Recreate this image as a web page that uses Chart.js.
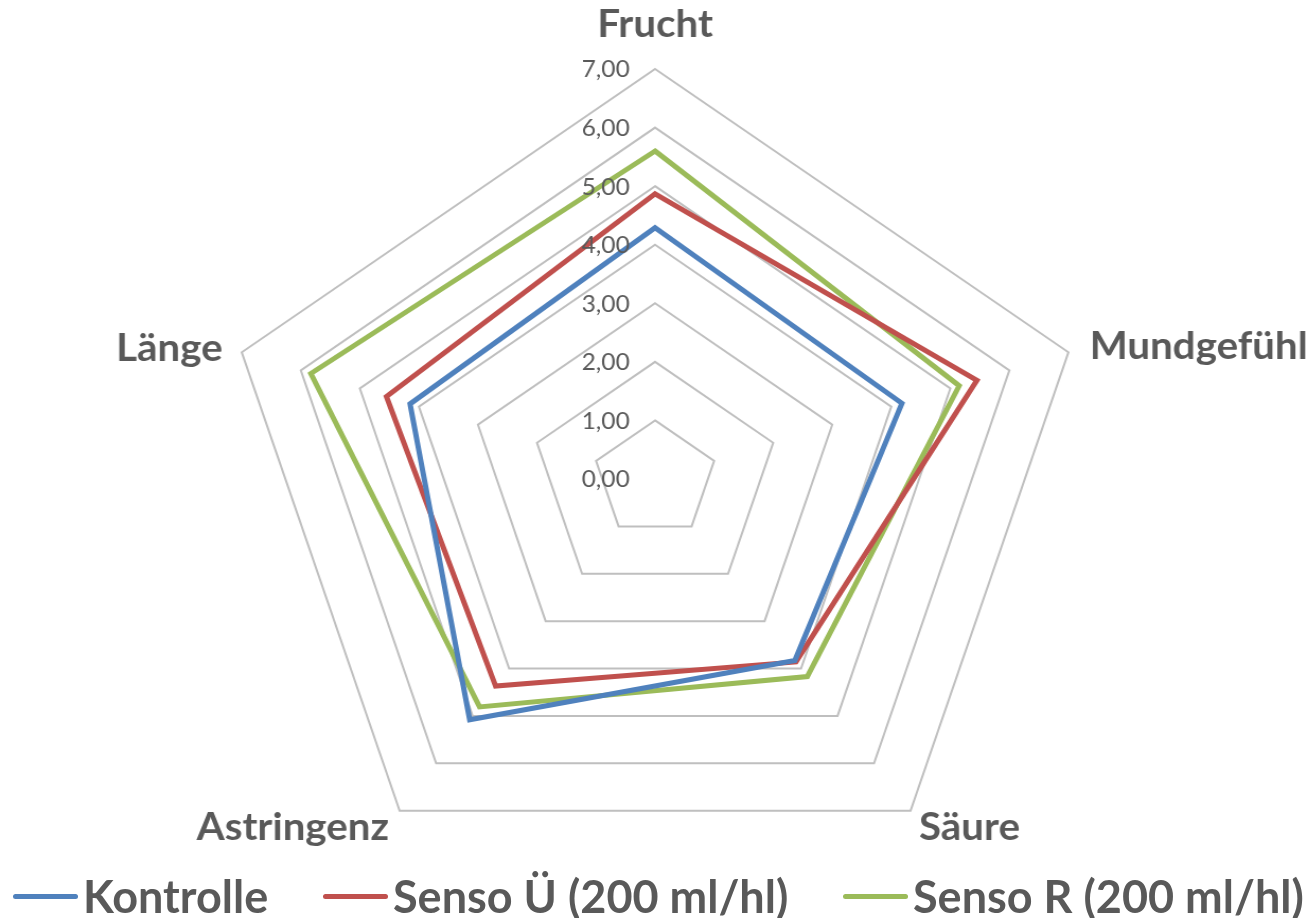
<!DOCTYPE html>
<html>
<head>
<meta charset="utf-8">
<script src="https://cdn.jsdelivr.net/npm/chart.js@4/dist/chart.umd.min.js"></script>
<style>
  html, body { margin: 0; padding: 0; background: #ffffff; overflow: hidden; }
  #wrap { position: relative; width: 1310px; height: 918px; }
  #c { position: absolute; left: 0; top: 0; transform-origin: 0 0; transform: scaleX(1.06); }
  #legend { position: absolute; left: 0; top: 870px; width: 1310px; height: 52px;
    font-family: Lato, "Open Sans", sans-serif; font-weight: bold; font-size: 45px; color: #595959; }
  .item { position: absolute; top: 0; display: flex; align-items: center; height: 52px; white-space: nowrap; }
  .swatch { width: 65px; height: 5px; border-radius: 3px; margin-right: 5px; }
</style>
</head>
<body>
<div id="wrap">
  <canvas id="c" width="1236" height="918"></canvas>
  <div id="legend"></div>
</div>
<script>
const categories = ["Frucht", "Mundgefühl", "Säure", "Astringenz", "Länge"];
const seriesNames = ["Kontrolle", "Senso Ü (200 ml/hl)", "Senso R (200 ml/hl)"];
const kontrolle = [4.29, 4.18, 3.83, 5.08, 4.15];
const sensoU    = [4.87, 5.45, 3.86, 4.37, 4.55];
const sensoR    = [5.60, 5.15, 4.17, 4.81, 5.83];
const tickValues = [0, 1, 2, 3, 4, 5, 6, 7];
const tickLabels = ["0,00", "1,00", "2,00", "3,00", "4,00", "5,00", "6,00", "7,00"];
const colors = ["#4F81BD", "#C0504D", "#9BBB59"];
const legendLeft = [13, 323, 843];

const textColor = "#595959";

const labelPlugin = {
  id: "customLabels",
  afterDraw(chart) {
    const scale = chart.scales.r;
    const ctx = chart.ctx;
    ctx.save();
    ctx.fillStyle = textColor;
    ctx.font = "23px Lato, 'Open Sans', sans-serif";
    ctx.textAlign = "right";
    ctx.textBaseline = "middle";
    tickValues.forEach((v, i) => {
      const y = scale.yCenter - scale.getDistanceFromCenterForValue(v);
      ctx.fillText(tickLabels[i], scale.xCenter - 24, y + 1);
    });
    ctx.font = "bold 38px Lato, 'Open Sans', sans-serif";
    const offs = [
      {dx: 0, dy: -44, align: "center"},
      {dx: 20, dy: -6, align: "left"},
      {dx: 8, dy: 17, align: "left"},
      {dx: -10, dy: 17, align: "right"},
      {dx: -18, dy: -4, align: "right"}
    ];
    categories.forEach((name, i) => {
      const p = scale.getPointPosition(i, scale.drawingArea);
      ctx.textAlign = offs[i].align;
      ctx.fillText(name, p.x + offs[i].dx, p.y + offs[i].dy);
    });
    ctx.restore();
  }
};

const chart = new Chart(document.getElementById("c"), {
  type: "radar",
  data: {
    labels: categories,
    datasets: [
      { label: seriesNames[0], data: kontrolle, borderColor: colors[0], backgroundColor: colors[0] },
      { label: seriesNames[1], data: sensoU, borderColor: colors[1], backgroundColor: colors[1] },
      { label: seriesNames[2], data: sensoR, borderColor: colors[2], backgroundColor: colors[2] }
    ]
  },
  options: {
    responsive: false,
    animation: false,
    layout: { padding: { top: 69, bottom: 29, left: 0, right: 0 } },
    elements: {
      line: { borderWidth: 5, fill: false, tension: 0, borderJoinStyle: "miter" },
      point: { radius: 0, hoverRadius: 0 }
    },
    plugins: { legend: { display: false }, tooltip: { enabled: false } },
    scales: {
      r: {
        min: 0, max: 7,
        ticks: { display: false, stepSize: 1 },
        pointLabels: { display: false },
        angleLines: { display: false },
        grid: { color: "#BFBFBF", lineWidth: 2 }
      }
    }
  },
  plugins: [labelPlugin]
});

const legend = document.getElementById("legend");
seriesNames.forEach((n, i) => {
  const it = document.createElement("div");
  it.className = "item";
  it.style.left = legendLeft[i] + "px";
  const sw = document.createElement("span");
  sw.className = "swatch";
  sw.style.background = colors[i];
  const tx = document.createElement("span");
  tx.textContent = n;
  it.appendChild(sw); it.appendChild(tx);
  legend.appendChild(it);
});
</script>
</body>
</html>
